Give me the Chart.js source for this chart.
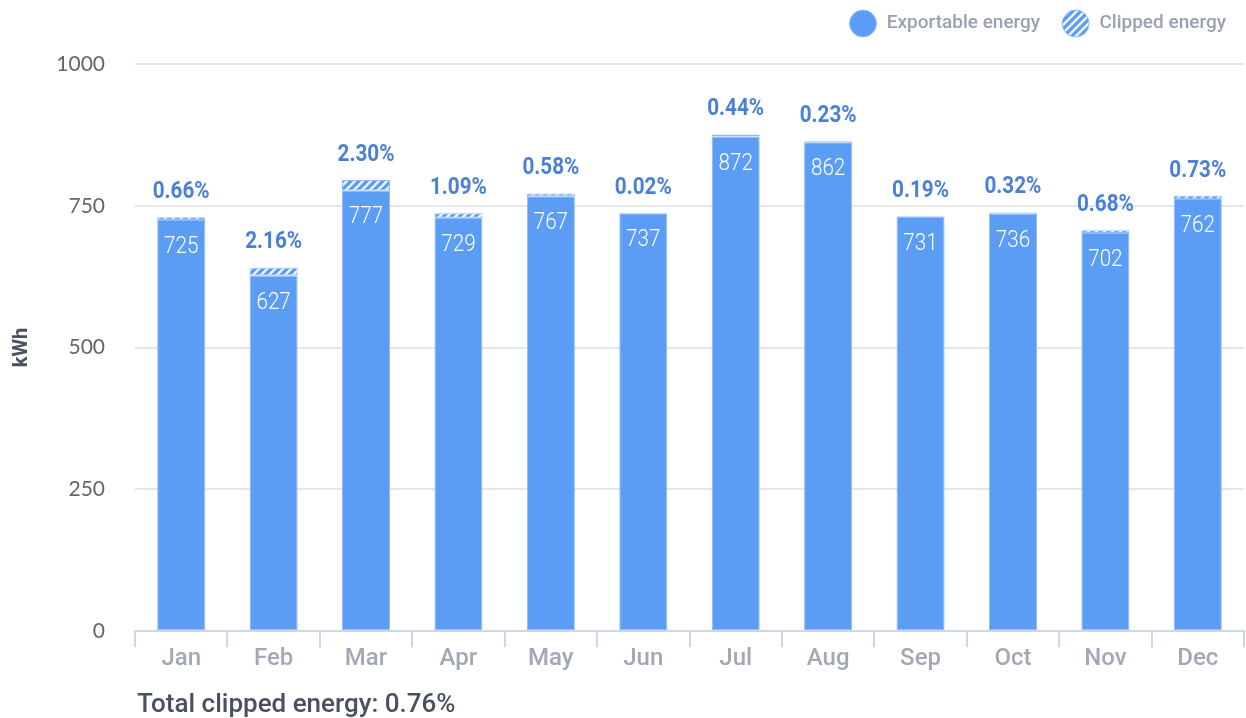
<!DOCTYPE html>
<html>
<head>
<meta charset="utf-8">
<script src="https://cdn.jsdelivr.net/npm/chart.js@4"></script>
<style>
  body { margin: 0; background: #fff; }
  #wrap { width: 1246px; height: 718px; }
</style>
</head>
<body>
<div id="wrap"><canvas id="myChart"></canvas></div>
<script>
let months = ["Jan", "Feb", "Mar", "Apr", "May", "Jun", "Jul", "Aug", "Sep", "Oct", "Nov", "Dec"]
let exportable = [725, 627, 777, 729, 767, 737, 872, 862, 731, 736, 702, 762]
let clipped = [4.8, 13.8, 18.3, 8.0, 4.5, 0.2, 3.9, 2.0, 1.4, 2.4, 4.8, 5.6]
let clippedPct = ["0.66%", "2.16%", "2.30%", "1.09%", "0.58%", "0.02%", "0.44%", "0.23%", "0.19%", "0.32%", "0.68%", "0.73%"]
let yTicks = [0, 250, 500, 750, 1000]
let totalText = "Total clipped energy: 0.76%"

let blue = "#5b9cf5"
let ctx = document.getElementById("myChart").getContext("2d")

// diagonal white stripes for the clipped part
function hatch() {
    let c = document.createElement("canvas")
    c.width = 8; c.height = 8
    let g = c.getContext("2d")
    g.fillStyle = blue
    g.fillRect(0, 0, 8, 8)
    g.strokeStyle = "rgba(255,255,255,0.9)"
    g.lineWidth = 2.4
    g.beginPath()
    g.moveTo(-2, 10); g.lineTo(10, -2)
    g.moveTo(-6, 6); g.lineTo(6, -6)
    g.moveTo(2, 14); g.lineTo(14, 2)
    g.stroke()
    return ctx.createPattern(c, "repeat")
}

// narrow-looking text (the original uses a condensed face)
function squeezed(c, text, x, y, sx) {
    c.save()
    c.translate(x, y)
    c.scale(sx, 1)
    c.fillText(text, 0, 0)
    c.restore()
}

let legendGap = {
    id: "legendGap",
    beforeInit(chart) {
        let fit = chart.legend.fit
        chart.legend.fit = function () {
            fit.bind(chart.legend)()
            this.height += 21
        }
    },
    afterLayout(chart) {
        chart.legend.right += 8
    }
}

let barLabels = {
    id: "barLabels",
    afterDatasetsDraw(chart) {
        let c = chart.ctx
        let m0 = chart.getDatasetMeta(0)
        let m1 = chart.getDatasetMeta(1)
        c.save()
        c.textAlign = "center"
        c.textBaseline = "middle"
        m0.data.forEach((bar, i) => {
            c.fillStyle = "#ffffff"
            c.font = "300 24px Roboto"
            squeezed(c, String(exportable[i]), bar.x, bar.y + 27, 0.86)
            let top = m1.data[i].y
            c.fillStyle = "#4a80d6"
            c.font = "bold 23px Roboto"
            squeezed(c, clippedPct[i], bar.x, top - 25, 0.9)
        })
        // total line under the axis
        c.textAlign = "left"
        c.fillStyle = "#4a5060"
        c.font = "500 26px Roboto"
        c.fillText(totalText, chart.chartArea.left + 2, 705)
        c.restore()
    }
}

let myChart = new Chart(ctx, {
    type: "bar",
    data: {
        labels: months,
        datasets: [
            {
                label: " Exportable energy",
                data: exportable,
                backgroundColor: blue,
                borderColor: "#8fbaf8",
                borderWidth: 1,
                borderSkipped: false,
                barPercentage: 0.52,
                categoryPercentage: 1,
            },
            {
                label: " Clipped energy",
                data: clipped,
                backgroundColor: hatch(),
                borderColor: "#8fbaf8",
                borderWidth: 1,
                borderSkipped: false,
                barPercentage: 0.52,
                categoryPercentage: 1,
            },
        ],
    },
    options: {
        responsive: true,
        maintainAspectRatio: false,
        animation: false,
        layout: {
            padding: { left: 0, right: 2, top: -12, bottom: 48 },
        },
        plugins: {
            tooltip: { enabled: false },
            legend: {
                position: "top",
                align: "end",
                labels: {
                    usePointStyle: true,
                    pointStyle: "circle",
                    boxWidth: 24,
                    boxHeight: 24,
                    padding: 26,
                    color: "#9aa0b0",
                    font: { family: "Roboto", size: 19, weight: "500" },
                },
            },
        },
        scales: {
            x: {
                stacked: true,
                grid: {
                    offset: true,
                    drawOnChartArea: false,
                    tickLength: 16,
                    color: "#ccd7ea",
                    lineWidth: 2,
                },
                border: { color: "#ccd7ea", width: 2 },
                ticks: {
                    color: "#a2a8b6",
                    padding: -3,
                    font: { family: "Roboto", size: 24, weight: "500" },
                },
            },
            y: {
                stacked: true,
                min: 0,
                max: 1000,
                afterBuildTicks(axis) {
                    axis.ticks = yTicks.map(v => ({ value: v }))
                },
                afterFit(axis) {
                    axis.width = 135
                },
                grid: { color: "#e6e6e6", lineWidth: 2, drawTicks: false },
                border: { display: false },
                ticks: {
                    color: "#666666",
                    padding: 30,
                    font: { family: "Lato", size: 21 },
                    callback: (v) => String(v),
                },
                title: {
                    display: true,
                    text: "kWh",
                    color: "#4a5060",
                    padding: { top: 10, bottom: 0 },
                    font: { family: "Roboto", size: 20, weight: "bold" },
                },
            },
        },
    },
    plugins: [legendGap, barLabels],
})
</script>
</body>
</html>
